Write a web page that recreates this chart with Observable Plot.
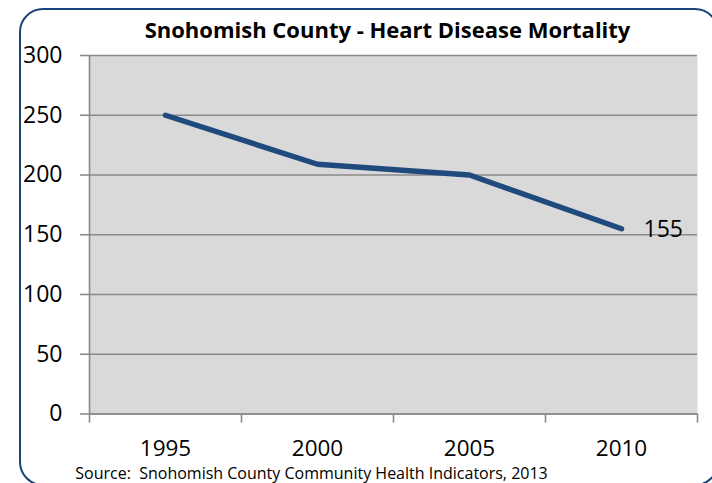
<!DOCTYPE html>
<html>
<head>
<meta charset="utf-8">
<script src="https://cdn.jsdelivr.net/npm/d3@7"></script>
<script src="https://cdn.jsdelivr.net/npm/@observablehq/plot@0.6"></script>
<style>
  html, body { margin: 0; padding: 0; background: #fff; }
  #wrap { position: relative; width: 712px; height: 483px; overflow: hidden; }
  #border { position: absolute; left: 19px; top: 8px; width: 700px; height: 478px;
            border: 2px solid #1a4478; border-radius: 24px; pointer-events: none; box-sizing: border-box; }
</style>
</head>
<body>
<div id="wrap"><div id="chart"></div><div id="border"></div></div>
<script>
const title = "Snohomish County - Heart Disease Mortality";
const source = "Source:  Snohomish County Community Health Indicators, 2013";
const years = [1995, 2000, 2005, 2010];
const mortality = [250, 209, 200, 155];
const yTicks = [0, 50, 100, 150, 200, 250, 300];

const data = years.map((y, i) => ({year: y, value: mortality[i]}));
const step = years[1] - years[0];
const bounds = [...years.map(y => y - step / 2), years[years.length - 1] + step / 2];
const last = data[data.length - 1];

const font = "'Open Sans', sans-serif";
const grid = "#8a8a8a";

const chart = Plot.plot({
  width: 712,
  height: 483,
  marginLeft: 89,
  marginRight: 15,
  marginTop: 55,
  marginBottom: 69.5,
  style: {fontFamily: font, background: "white", color: "#000"},
  x: {type: "linear", domain: [bounds[0], bounds[bounds.length - 1]]},
  y: {domain: [0, 300]},
  marks: [
    Plot.frame({fill: "#d9d9d9", stroke: null}),
    Plot.gridY(yTicks, {stroke: grid, strokeOpacity: 1, strokeWidth: 1.6}),
    Plot.ruleX([bounds[0]], {stroke: grid, strokeWidth: 1.6}),
    Plot.ruleY([0], {stroke: grid, strokeWidth: 1.6}),
    Plot.axisY({ticks: yTicks, tickSize: 9, tickPadding: 18, fontSize: 23, stroke: grid, strokeWidth: 1.6, label: null, tickFormat: d => String(d)}),
    Plot.axisX({ticks: bounds, tickSize: 9, tickFormat: () => "", stroke: grid, strokeWidth: 1.6, label: null}),
    Plot.axisX({ticks: years, tickSize: 0, tickPadding: 26, fontSize: 22.5, tickFormat: d => String(d), label: null}),
    Plot.line(data, {x: "year", y: "value", stroke: "#1f4a7e", strokeWidth: 5.5, strokeLinecap: "round", strokeLinejoin: "round"}),
    Plot.text([last], {x: "year", y: "value", text: d => String(d.value), dx: 22, dy: 1, textAnchor: "start", fontSize: 23, fill: "#000"}),
    Plot.text([title], {frameAnchor: "top", dx: -6, dy: -33, fontSize: 22, fontWeight: "bold", fill: "#000"}),
    Plot.text([source], {frameAnchor: "bottom", dx: -82, dy: 65, fontSize: 16, fill: "#000"})
  ]
});
document.getElementById("chart").appendChild(chart);
</script>
</body>
</html>
